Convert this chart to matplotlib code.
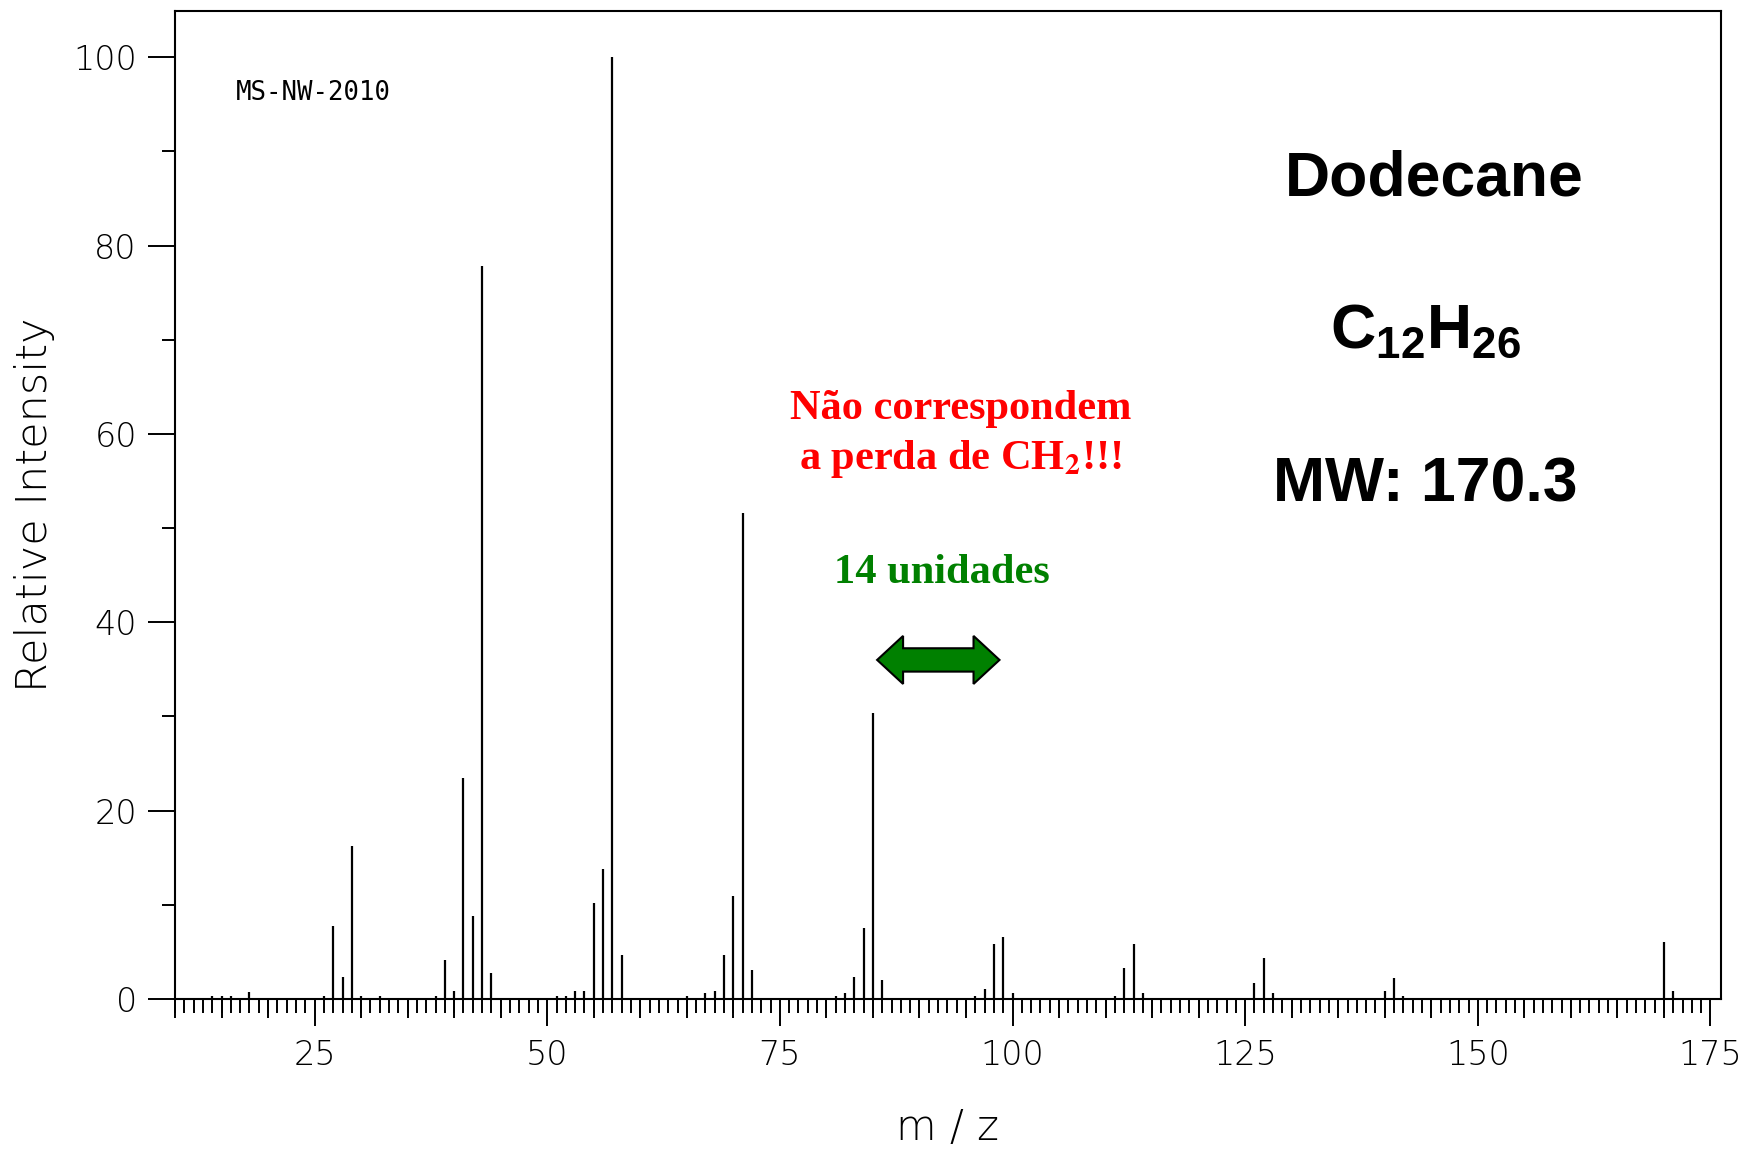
import numpy as np
import matplotlib
matplotlib.use("Agg")
import matplotlib.pyplot as plt
from matplotlib.patches import Polygon

# ---- data ----
mz = [14, 15, 16, 18, 26, 27, 28, 29, 30, 32, 38, 39, 40, 41, 42, 43, 44,
      51, 52, 53, 54, 55, 56, 57, 58, 65, 67, 68, 69, 70, 71, 72,
      81, 82, 83, 84, 85, 86, 96, 97, 98, 99, 100, 111, 112, 113, 114,
      126, 127, 128, 140, 141, 142, 170, 171]
intensity = [0.35, 0.35, 0.35, 0.7, 0.35, 7.8, 2.3, 16.2, 0.35, 0.35, 0.35, 4.1, 0.9, 23.5, 8.8, 77.8, 2.8,
             0.35, 0.35, 0.9, 0.9, 10.2, 13.8, 100.0, 4.7, 0.35, 0.6, 0.9, 4.7, 10.9, 51.6, 3.1,
             0.35, 0.6, 2.3, 7.5, 30.4, 2.0, 0.3, 1.1, 5.8, 6.6, 0.6, 0.3, 3.3, 5.8, 0.6,
             1.7, 4.4, 0.6, 0.85, 2.2, 0.3, 6.0, 0.85]
x_major_ticks = [25, 50, 75, 100, 125, 150, 175]
y_major_ticks = [0, 20, 40, 60, 80, 100]

# arrow annotation ("14 unidades")
arrow_start, arrow_end, arrow_y = 85.45, 98.6, 36.0

fig = plt.figure(figsize=(17.45, 11.5), dpi=100)
ax = fig.add_axes([175 / 1745, 1 - 999 / 1150, 1545.7 / 1745, 988 / 1150])

ax.vlines(mz, 0, intensity, colors="black", linewidth=1.6)

ax.set_xlim(10, 176.1)
ax.set_ylim(0, 104.9)

for s in ax.spines.values():
    s.set_linewidth(1.5)
    s.set_color("black")

tick_font = dict(family="DejaVu Sans", weight="light", size=24)

ax.set_xticks(x_major_ticks)
ax.set_xticks(np.arange(10, 176, 1), minor=True)
ax.set_yticks(y_major_ticks)
ax.set_yticks(np.arange(10, 101, 20), minor=True)
ax.set_xticklabels([str(t) for t in x_major_ticks], fontdict=tick_font)
ax.set_yticklabels([str(t) for t in y_major_ticks], fontdict=tick_font)
ax.tick_params(axis="x", which="major", direction="out", length=19.5, width=1.4, pad=9)
ax.tick_params(axis="x", which="minor", direction="out", length=10, width=1.4)
ax.tick_params(axis="y", which="major", direction="out", length=19.5, width=1.4, pad=8)
ax.tick_params(axis="y", which="minor", direction="out", length=9.4, width=1.4)

# intermediate ticks every 5 units
sec = ax.secondary_xaxis("bottom")
sec.set_xticks([v for v in range(10, 176, 5) if v % 25 != 0])
sec.tick_params(axis="x", direction="out", length=13.7, width=1.4, labelbottom=False)
sec.spines["bottom"].set_visible(False)

ax.set_xlabel("m / z", family="DejaVu Sans", weight="light", size=30)
ax.xaxis.set_label_coords(0.5, -0.1296)
ax.xaxis.label.set_va("center")
ax.set_ylabel("Relative Intensity", family="DejaVu Sans", weight="light", size=31)
ax.yaxis.set_label_coords(-0.0906, 0.5)
ax.yaxis.label.set_va("center")

# texts
ax.text(16.5, 95.5, "MS-NW-2010", family="DejaVu Sans Mono", size=18.5,
        ha="left", va="baseline", color="black")

plt.rcParams["mathtext.fontset"] = "custom"
plt.rcParams["mathtext.bf"] = "Liberation Sans:bold"
plt.rcParams["mathtext.rm"] = "Liberation Sans:bold"

sans_bold = dict(family="Liberation Sans", weight="bold", size=45, ha="center", va="baseline")
ax.text(145.3, 85.35, "Dodecane", **sans_bold)
ax.text(144.4, 69.1, r"C$_\mathbf{12}$H$_\mathbf{26}$", math_fontfamily="custom", **sans_bold)
ax.text(144.4, 52.8, "MW: 170.3", **sans_bold)

serif_bold = dict(family="Liberation Serif", weight="bold", size=30.5, ha="center", va="baseline")
ax.text(94.4, 61.6, "Não correspondem", color="#FF0000", **serif_bold)
ax.text(94.4, 56.3, r"a perda de CH$_\mathbf{2}$!!!", color="#FF0000",
        math_fontfamily="stix", **serif_bold)
ax.text(92.4, 44.2, "14 unidades", color="#008000", **serif_bold)

# double-headed block arrow
head_len, head_half, shaft_half = 2.79, 2.55, 1.24
pts = [
    (arrow_start, arrow_y),
    (arrow_start + head_len, arrow_y + head_half),
    (arrow_start + head_len, arrow_y + shaft_half),
    (arrow_end - head_len, arrow_y + shaft_half),
    (arrow_end - head_len, arrow_y + head_half),
    (arrow_end, arrow_y),
    (arrow_end - head_len, arrow_y - head_half),
    (arrow_end - head_len, arrow_y - shaft_half),
    (arrow_start + head_len, arrow_y - shaft_half),
    (arrow_start + head_len, arrow_y - head_half),
]
ax.add_patch(Polygon(pts, closed=True, facecolor="#008000", edgecolor="black", linewidth=1.5))

fig.savefig("out.png", dpi=100)
